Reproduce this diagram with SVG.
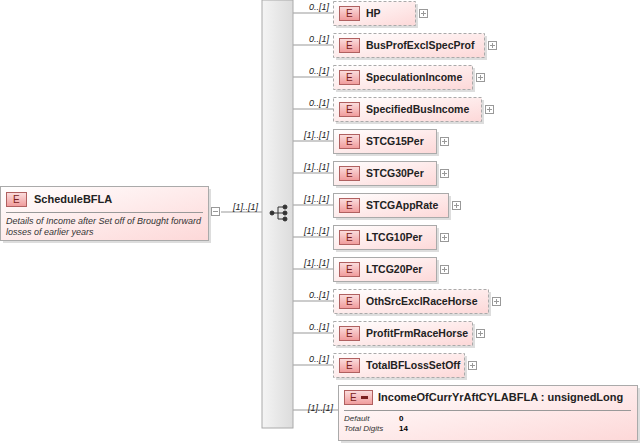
<svg xmlns="http://www.w3.org/2000/svg" width="643" height="446" viewBox="0 0 643 446">
<defs>
<linearGradient id="g" x1="0" y1="0" x2="1" y2="1"><stop offset="0" stop-color="#fff"/><stop offset="1" stop-color="#fdd8d8"/></linearGradient>
<linearGradient id="e" x1="0" y1="0" x2="0" y2="1"><stop offset="0" stop-color="#fbdede"/><stop offset="1" stop-color="#f09a9a"/></linearGradient>
<linearGradient id="bar" x1="0" y1="0" x2="1" y2="0"><stop offset="0" stop-color="#f4f4f4"/><stop offset="1" stop-color="#dcdcdc"/></linearGradient>
</defs>
<style>
text{font-family:"Liberation Sans",Arial,sans-serif}
.n{font-size:10.5px;font-weight:bold;fill:#222}
.c{font-size:9px;font-style:italic;fill:#222}
.d{font-size:9px;font-style:italic;fill:#333}
.bx{fill:url(#g);stroke:#aaa}
.opt{stroke-dasharray:3,2}
.sh{fill:#ddd}
.eb{fill:url(#e);stroke:#b06060}
.et{font-size:10px;fill:#7a2020}
.pl{fill:#fff;stroke:#999}
.cn{stroke:#999;fill:none}
</style>
<g id="connectors">
<line class="cn" x1="221" y1="212" x2="262" y2="212"/>
<path class="cn" d="M293 13H333M293 45H333M293 77H333M293 109H333M293 141H333M293 173H333M293 205H333M293 237H333M293 269H333M293 301H333M293 333H333M293 365H333M293 410H338"/>
<text class="c" x="233" y="210">[1]..[1]</text>
<g class="c" text-anchor="end">
<text x="329" y="10">0..[1]</text><text x="329" y="42">0..[1]</text><text x="329" y="74">0..[1]</text><text x="329" y="106">0..[1]</text>
<text x="329" y="138">[1]..[1]</text><text x="329" y="170">[1]..[1]</text><text x="329" y="202">[1]..[1]</text><text x="329" y="234">[1]..[1]</text><text x="329" y="266">[1]..[1]</text>
<text x="329" y="298">0..[1]</text><text x="329" y="330">0..[1]</text><text x="329" y="362">0..[1]</text><text x="333" y="411">[1]..[1]</text>
</g>
</g>
<g id="sequence">
<rect x="262" y="0" width="31" height="428" fill="url(#bar)" stroke="#aaa"/>
<g fill="#333" stroke="#333"><circle cx="272" cy="213" r="2"/><line x1="272" y1="213" x2="278" y2="213"/><path d="M278 207V219M278 207H284M278 213H284M278 219H284" fill="none"/><circle cx="285" cy="207" r="2"/><circle cx="285" cy="213" r="2"/><circle cx="285" cy="219" r="2"/></g>
</g>
<g id="ScheduleBFLA">
<rect class="sh" x="3" y="189" width="208" height="54"/>
<rect class="bx" x="0.5" y="186.5" width="208" height="54"/>
<rect class="eb" x="6.5" y="192.5" width="20" height="14"/><text class="et" x="13" y="203">E</text>
<text class="n" x="34" y="203" style="font-size:11px">ScheduleBFLA</text>
<line x1="6" y1="212.5" x2="203" y2="212.5" stroke="#999"/>
<text class="d" x="6" y="224">Details of Income after Set off of Brought forward</text>
<text class="d" x="6" y="235">losses of earlier years</text>
<rect class="pl" x="211.5" y="207.5" width="8" height="8"/><line x1="213" y1="211.5" x2="218" y2="211.5" stroke="#999"/>
</g>
<g id="HP"><rect class="sh" x="336" y="4" width="82" height="24"/><rect class="bx opt" x="333.5" y="1.5" width="82" height="24"/><rect class="eb" x="339.5" y="6.5" width="20" height="14"/><text class="et" x="346" y="17">E</text><text class="n" x="366" y="17">HP</text><rect class="pl" x="419.5" y="9.5" width="8" height="8"/><path d="M421 13.5H426M423.5 11V16" stroke="#999"/></g>
<g id="BusProfExclSpecProf"><rect class="sh" x="336" y="36" width="151" height="24"/><rect class="bx opt" x="333.5" y="33.5" width="151" height="24"/><rect class="eb" x="339.5" y="38.5" width="20" height="14"/><text class="et" x="346" y="49">E</text><text class="n" x="366" y="49">BusProfExclSpecProf</text><rect class="pl" x="488.5" y="41.5" width="8" height="8"/><path d="M490 45.5H495M492.5 43V48" stroke="#999"/></g>
<g id="SpeculationIncome"><rect class="sh" x="336" y="68" width="139" height="24"/><rect class="bx opt" x="333.5" y="65.5" width="139" height="24"/><rect class="eb" x="339.5" y="70.5" width="20" height="14"/><text class="et" x="346" y="81">E</text><text class="n" x="366" y="81">SpeculationIncome</text><rect class="pl" x="476.5" y="73.5" width="8" height="8"/><path d="M478 77.5H483M480.5 75V80" stroke="#999"/></g>
<g id="SpecifiedBusIncome"><rect class="sh" x="336" y="100" width="148" height="24"/><rect class="bx opt" x="333.5" y="97.5" width="148" height="24"/><rect class="eb" x="339.5" y="102.5" width="20" height="14"/><text class="et" x="346" y="113">E</text><text class="n" x="366" y="113">SpecifiedBusIncome</text><rect class="pl" x="485.5" y="105.5" width="8" height="8"/><path d="M487 109.5H492M489.5 107V112" stroke="#999"/></g>
<g id="STCG15Per"><rect class="sh" x="336" y="132" width="103" height="24"/><rect class="bx" x="333.5" y="129.5" width="103" height="24"/><rect class="eb" x="339.5" y="134.5" width="20" height="14"/><text class="et" x="346" y="145">E</text><text class="n" x="366" y="145">STCG15Per</text><rect class="pl" x="440.5" y="137.5" width="8" height="8"/><path d="M442 141.5H447M444.5 139V144" stroke="#999"/></g>
<g id="STCG30Per"><rect class="sh" x="336" y="164" width="103" height="24"/><rect class="bx" x="333.5" y="161.5" width="103" height="24"/><rect class="eb" x="339.5" y="166.5" width="20" height="14"/><text class="et" x="346" y="177">E</text><text class="n" x="366" y="177">STCG30Per</text><rect class="pl" x="440.5" y="169.5" width="8" height="8"/><path d="M442 173.5H447M444.5 171V176" stroke="#999"/></g>
<g id="STCGAppRate"><rect class="sh" x="336" y="196" width="115" height="24"/><rect class="bx" x="333.5" y="193.5" width="115" height="24"/><rect class="eb" x="339.5" y="198.5" width="20" height="14"/><text class="et" x="346" y="209">E</text><text class="n" x="366" y="209">STCGAppRate</text><rect class="pl" x="452.5" y="201.5" width="8" height="8"/><path d="M454 205.5H459M456.5 203V208" stroke="#999"/></g>
<g id="LTCG10Per"><rect class="sh" x="336" y="228" width="103" height="24"/><rect class="bx" x="333.5" y="225.5" width="103" height="24"/><rect class="eb" x="339.5" y="230.5" width="20" height="14"/><text class="et" x="346" y="241">E</text><text class="n" x="366" y="241">LTCG10Per</text><rect class="pl" x="440.5" y="233.5" width="8" height="8"/><path d="M442 237.5H447M444.5 235V240" stroke="#999"/></g>
<g id="LTCG20Per"><rect class="sh" x="336" y="260" width="103" height="24"/><rect class="bx" x="333.5" y="257.5" width="103" height="24"/><rect class="eb" x="339.5" y="262.5" width="20" height="14"/><text class="et" x="346" y="273">E</text><text class="n" x="366" y="273">LTCG20Per</text><rect class="pl" x="440.5" y="265.5" width="8" height="8"/><path d="M442 269.5H447M444.5 267V272" stroke="#999"/></g>
<g id="OthSrcExclRaceHorse"><rect class="sh" x="336" y="292" width="155" height="24"/><rect class="bx opt" x="333.5" y="289.5" width="155" height="24"/><rect class="eb" x="339.5" y="294.5" width="20" height="14"/><text class="et" x="346" y="305">E</text><text class="n" x="366" y="305">OthSrcExclRaceHorse</text><rect class="pl" x="492.5" y="297.5" width="8" height="8"/><path d="M494 301.5H499M496.5 299V304" stroke="#999"/></g>
<g id="ProfitFrmRaceHorse"><rect class="sh" x="336" y="324" width="139" height="24"/><rect class="bx opt" x="333.5" y="321.5" width="139" height="24"/><rect class="eb" x="339.5" y="326.5" width="20" height="14"/><text class="et" x="346" y="337">E</text><text class="n" x="366" y="337">ProfitFrmRaceHorse</text><rect class="pl" x="476.5" y="329.5" width="8" height="8"/><path d="M478 333.5H483M480.5 331V336" stroke="#999"/></g>
<g id="TotalBFLossSetOff"><rect class="sh" x="336" y="356" width="131" height="24"/><rect class="bx opt" x="333.5" y="353.5" width="131" height="24"/><rect class="eb" x="339.5" y="358.5" width="20" height="14"/><text class="et" x="346" y="369">E</text><text class="n" x="366" y="369">TotalBFLossSetOff</text><rect class="pl" x="468.5" y="361.5" width="8" height="8"/><path d="M470 365.5H475M472.5 363V368" stroke="#999"/></g>
<g id="IncomeOfCurrYrAftCYLABFLA">
<rect class="sh" x="341" y="388" width="299" height="55"/>
<rect class="bx" x="338.5" y="385.5" width="299" height="55"/>
<rect class="eb" x="344.5" y="390.5" width="28" height="14"/><text class="et" x="350" y="401">E</text><rect x="361" y="396" width="7" height="3" fill="#7a2020"/>
<text class="n" x="378" y="401" style="font-size:11px">IncomeOfCurrYrAftCYLABFLA : unsignedLong</text>
<line x1="344" y1="410.5" x2="631" y2="410.5" stroke="#999"/>
<text class="d" x="344" y="421" style="font-size:8px">Default</text><text x="399" y="421" style="font-size:8px;font-weight:bold">0</text>
<text class="d" x="344" y="431" style="font-size:8px">Total Digits</text><text x="399" y="431" style="font-size:8px;font-weight:bold">14</text>
</g>
</svg>
